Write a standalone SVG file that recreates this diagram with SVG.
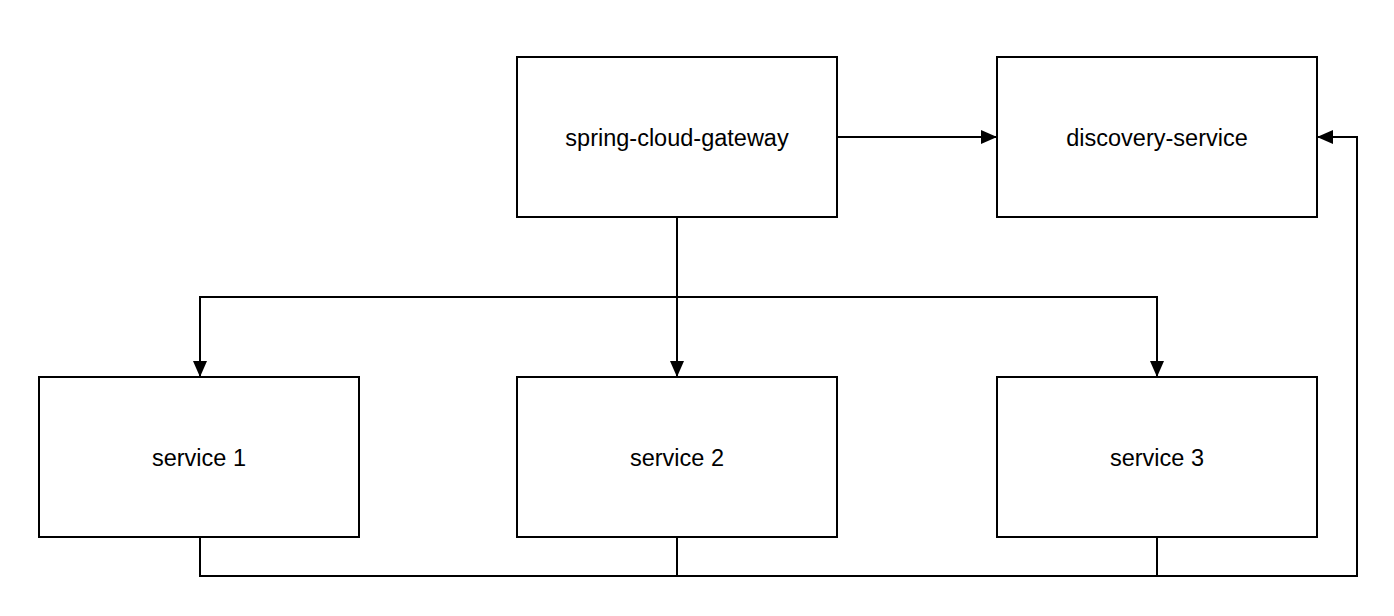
<svg xmlns="http://www.w3.org/2000/svg" width="1394" height="616" viewBox="0 0 1394 616">
<style>
.box{fill:#fff;stroke:#000;stroke-width:2}
.lbl{font-family:"Liberation Sans",Arial,sans-serif;font-size:23.5px;fill:#000;text-anchor:middle;dominant-baseline:central}
.edge{fill:none;stroke:#000;stroke-width:2}
</style>
<defs>
<marker id="arr" viewBox="0 0 16 14" refX="16" refY="7" markerWidth="16" markerHeight="14" markerUnits="userSpaceOnUse" orient="auto">
<path d="M0,0 L16,7 L0,14 Z" fill="#000"/>
</marker>
</defs>
<rect width="1394" height="616" fill="#fff"/>
<g id="connectors">
<path class="edge" d="M837,137 H997" marker-end="url(#arr)"/>
<path class="edge" d="M677,217 V377" marker-end="url(#arr)"/>
<path class="edge" d="M677,297 H200 V377" marker-end="url(#arr)"/>
<path class="edge" d="M677,297 H1157 V377" marker-end="url(#arr)"/>
<path class="edge" d="M200,537 V576 H1357 V137 H1317" marker-end="url(#arr)"/>
<path class="edge" d="M677,537 V576"/>
<path class="edge" d="M1157,537 V576"/>
</g>
<g id="gateway"><rect class="box" x="517" y="57" width="320" height="160"/><text class="lbl" x="677" y="138">spring-cloud-gateway</text></g>
<g id="discovery"><rect class="box" x="997" y="57" width="320" height="160"/><text class="lbl" x="1157" y="138">discovery-service</text></g>
<g id="service1"><rect class="box" x="39" y="377" width="320" height="160"/><text class="lbl" x="199" y="458">service 1</text></g>
<g id="service2"><rect class="box" x="517" y="377" width="320" height="160"/><text class="lbl" x="677" y="458">service 2</text></g>
<g id="service3"><rect class="box" x="997" y="377" width="320" height="160"/><text class="lbl" x="1157" y="458">service 3</text></g>
</svg>
